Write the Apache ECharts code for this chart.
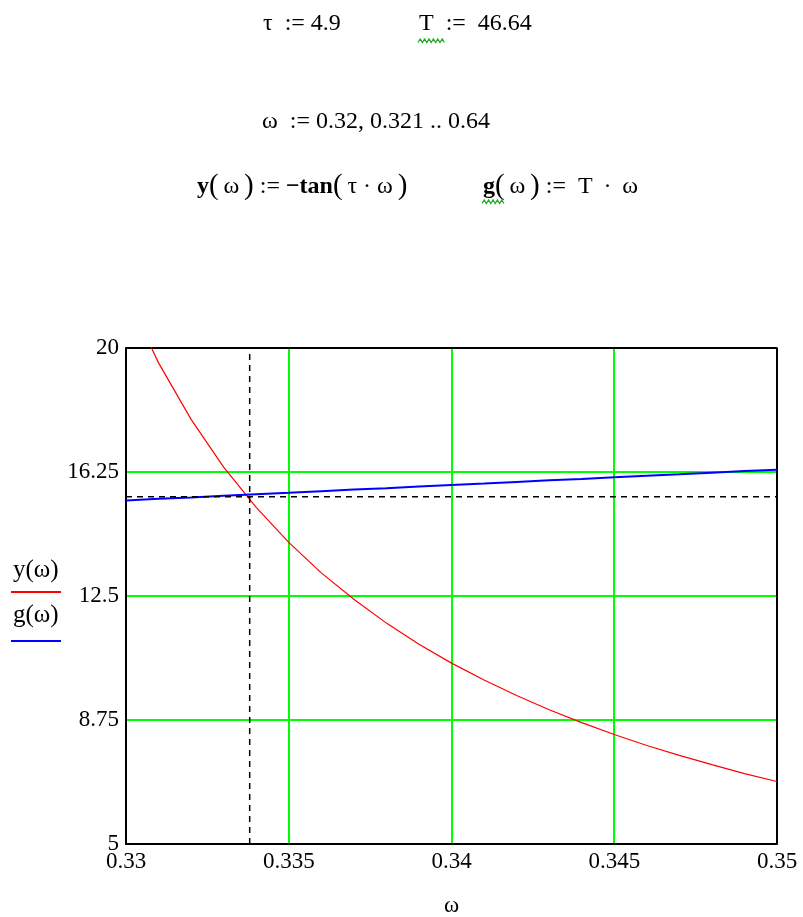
<!DOCTYPE html>
<html>
<head>
<meta charset="utf-8">
<script src="https://cdn.jsdelivr.net/npm/echarts@6/dist/echarts.min.js"></script>
<style>
html,body{margin:0;padding:0;background:#fff;}
#chart{width:803px;height:917px;}
</style>
</head>
<body>
<div id="chart"></div>
<script>
// ω values (step 0.001, as in the worksheet range), visible window 0.33 .. 0.35
var omega = [0.330,0.331,0.332,0.333,0.334,0.335,0.336,0.337,0.338,0.339,0.340,
             0.341,0.342,0.343,0.344,0.345,0.346,0.347,0.348,0.349,0.350];
// y(ω) = -tan(τ·ω)
var yVals = [21.63,19.55,17.84,16.40,15.18,14.12,13.20,12.40,11.68,11.04,10.47,
             9.96,9.49,9.06,8.67,8.31,7.98,7.68,7.40,7.13,6.89];
// g(ω) = T·ω
var gVals = [15.39,15.44,15.48,15.53,15.58,15.62,15.67,15.72,15.76,15.81,15.86,
             15.90,15.95,16.00,16.04,16.09,16.14,16.18,16.23,16.28,16.32];
// crosshair (trace) position
var crossX = 0.3338;
var crossY = 15.5;
// axes
var xMin = 0.33, xMax = 0.35, xStep = 0.005;
var yMin = 5, yMax = 20, yStep = 3.75;

var serif = '"Liberation Serif","DejaVu Serif",serif';
var chart = echarts.init(document.getElementById('chart'));

function pairs(xs, ys){ return xs.map(function(x,i){return [x, ys[i]];}); }
function fmt(v){ return String(parseFloat(v.toFixed(4))); }

function wave(x0, y0, n){
  var pts = [];
  for (var i = 0; i <= n*2; i++) pts.push([x0 + i*2.2, y0 + (i%2 ? -2 : 1.5)]);
  return pts;
}

var rich = {
  n: { fontFamily: serif, fontSize: 24, color: '#000' },
  b: { fontFamily: serif, fontSize: 24, fontWeight: 'bold', color: '#000' },
  p: { fontFamily: serif, fontSize: 29, color: '#000', fontWeight: 'normal' }
};
function txt(left, top, text){
  return { type: 'text', left: left, top: top,
           style: { text: text, rich: rich, font: '24px ' + serif, fill: '#000' } };
}

var option = {
  backgroundColor: '#ffffff',
  animation: false,
  grid: { left: 126, right: 26, top: 348, bottom: 73, show: false },
  xAxis: {
    type: 'value', min: xMin, max: xMax, interval: xStep,
    axisLine: { show: true, onZero: false, lineStyle: { color: '#000', width: 2 } },
    axisTick: { show: false },
    axisLabel: { color: '#000', fontFamily: serif, fontSize: 23, margin: 6,
                 formatter: function(v){ return fmt(v); } },
    splitLine: { show: true, showMinLine: false, showMaxLine: false,
                 lineStyle: { color: '#00ff00', width: 2 } }
  },
  yAxis: {
    type: 'value', min: yMin, max: yMax, interval: yStep,
    axisLine: { show: true, onZero: false, lineStyle: { color: '#000', width: 2 } },
    axisTick: { show: false },
    axisLabel: { color: '#000', fontFamily: serif, fontSize: 23, margin: 7,
                 formatter: function(v){ return fmt(v); } },
    splitLine: { show: true, showMinLine: false, showMaxLine: true,
                 lineStyle: { color: '#00ff00', width: 2 } }
  },
  series: [
    {
      name: 'y(ω)', type: 'line', data: pairs(omega, yVals), showSymbol: false,
      clip: true, lineStyle: { color: '#ff0000', width: 1.2 }, z: 3
    },
    {
      name: 'g(ω)', type: 'line', data: pairs(omega, gVals), showSymbol: false,
      clip: true, lineStyle: { color: '#0000ff', width: 2 }, z: 4
    },
    // trace crosshair: vertical and horizontal dashed lines
    {
      type: 'line', data: [[crossX, yMin], [crossX, yMax]], showSymbol: false,
      clip: true, silent: true, z: 5,
      lineStyle: { color: '#000', type: [6,5], width: 1.5 }
    },
    {
      type: 'line', data: [[xMin, crossY], [xMax, crossY]], showSymbol: false,
      clip: true, silent: true, z: 5,
      lineStyle: { color: '#000', type: [6,5], width: 1.5 }
    },
    // frame top and right
    {
      type: 'line', data: [[xMin, yMax],[xMax, yMax],[xMax, yMin]], showSymbol: false,
      clip: false, lineStyle: { color: '#000', width: 2 }, z: 1, silent: true
    }
  ],
  graphic: [
    txt(263, 12, '{n|τ  := 4.9}'),
    txt(419, 12, '{n|T  :=  46.64}'),
    { type: 'polyline', shape: { points: wave(418, 41, 6) }, style: { stroke: '#22aa22', lineWidth: 1.2, fill: null } },
    txt(262, 110, '{n|ω  := 0.32, 0.321 .. 0.64}'),
    txt(197, 172, '{b|y}{p|(}{n|\u2009ω\u2009}{p|)}{n| := }{b|−tan}{p|(}{n|\u2009τ · ω\u2009}{p|)}'),
    txt(483, 172, '{b|g}{p|(}{n|\u2009ω\u2009}{p|)}{n| :=  T\u2009 · \u2009ω}'),
    { type: 'polyline', shape: { points: wave(482, 202, 5) }, style: { stroke: '#22aa22', lineWidth: 1.2, fill: null } },
    { type: 'text', left: 13, top: 558, style: { text: 'y(ω)', font: '25px ' + serif, fill: '#000' } },
    { type: 'line', shape: { x1: 11, y1: 592, x2: 61, y2: 592 }, style: { stroke: '#ff0000', lineWidth: 2 } },
    { type: 'text', left: 13, top: 603, style: { text: 'g(ω)', font: '25px ' + serif, fill: '#000' } },
    { type: 'line', shape: { x1: 11, y1: 641, x2: 61, y2: 641 }, style: { stroke: '#0000ff', lineWidth: 2 } },
    { type: 'text', left: 444, top: 894, style: { text: 'ω', font: '23px ' + serif, fill: '#000' } }
  ]
};
chart.setOption(option);
</script>
</body>
</html>
